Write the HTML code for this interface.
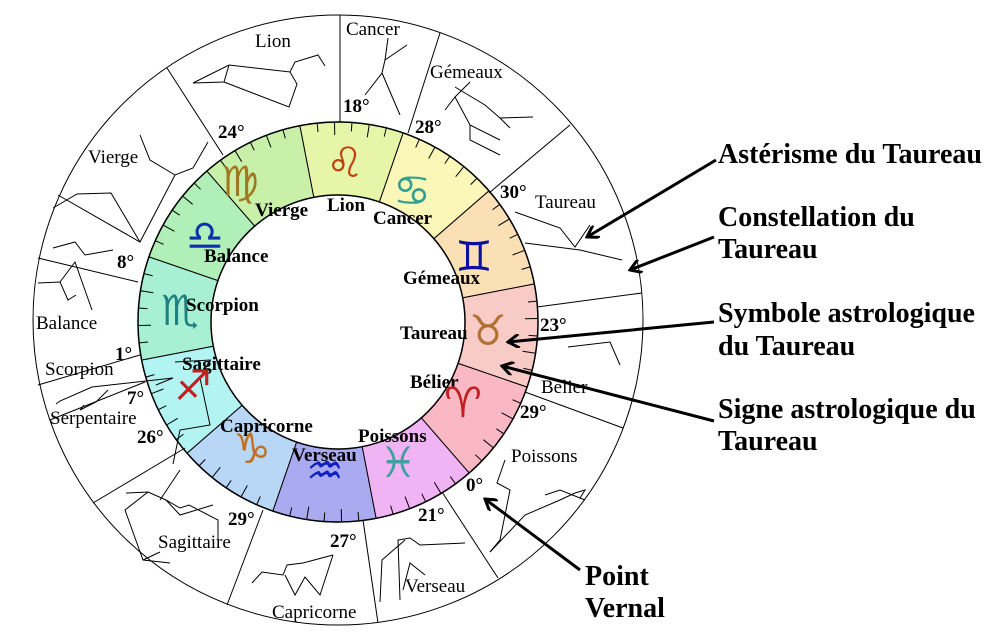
<!DOCTYPE html>
<html><head><meta charset="utf-8">
<style>
html,body{margin:0;padding:0;background:#fff;}
svg{display:block;}
.c{font-family:"Liberation Serif",serif;font-size:19px;fill:#000;}
.b{font-family:"Liberation Serif",serif;font-size:19px;font-weight:bold;fill:#000;}
.r{font-family:"Liberation Serif",serif;font-size:28px;font-weight:bold;fill:#000;}
.s{font-family:"DejaVu Sans",sans-serif;font-size:42px;text-anchor:middle;}
</style></head>
<body>
<svg width="991" height="642" viewBox="0 0 991 642" xmlns="http://www.w3.org/2000/svg">
<defs>
<marker id="ah" markerWidth="14" markerHeight="14" refX="12" refY="7" orient="auto" markerUnits="userSpaceOnUse">
<path d="M1,0 L12,7 L1,14" fill="none" stroke="#000" stroke-width="3"/>
</marker>
</defs>
<circle cx="338" cy="320" r="305" fill="#fff" stroke="#000" stroke-width="1"/>
<g id="ring"></g>
<g id="ticks" stroke="#000" stroke-width="1"></g>
<circle cx="338" cy="322" r="127" fill="#fff" stroke="#000" stroke-width="1.5"/>
<circle cx="338" cy="322" r="200" fill="none" stroke="#000" stroke-width="1.5"/>

<g stroke="#000" stroke-width="1">
<line x1="340" y1="122" x2="340" y2="15"/>
<line x1="408" y1="133" x2="440" y2="33"/>
<line x1="489" y1="193" x2="570" y2="125"/>
<line x1="537" y1="307" x2="642" y2="293"/>
<line x1="525" y1="392" x2="623" y2="428"/>
<line x1="442" y1="492" x2="498" y2="578"/>
<line x1="363" y1="520" x2="378" y2="623"/>
<line x1="263" y1="510" x2="227" y2="605"/>
<line x1="185" y1="448" x2="93" y2="503"/>
<line x1="145" y1="382" x2="50" y2="420"/>
<line x1="140" y1="355" x2="38" y2="385"/>
<line x1="138" y1="282" x2="38" y2="258"/>
<line x1="223" y1="155" x2="167" y2="68"/>
</g>

<g fill="none" stroke="#000" stroke-width="1">
<polyline points="193,83 229,65 290,72 295,62 318,55 325,66"/>
<polyline points="229,65 224,82 193,83"/>
<polyline points="224,82 289,107 297,84 290,72"/>
<polyline points="140,135 150,160 175,175 193,168 208,142"/>
<polyline points="175,175 140,242 58,195"/>
<polyline points="140,242 111,193 77,194 53,208"/>
<polyline points="53,248 75,242 85,255 113,250"/>
<polyline points="388,38 385,60 382,73 365,95"/>
<polyline points="385,60 407,45"/>
<polyline points="382,73 400,115"/>
<polyline points="455,87 485,105 500,118 533,117"/>
<polyline points="470,82 455,97 445,110"/>
<polyline points="455,97 470,125 500,140"/>
<polyline points="470,125 470,140 500,155"/>
<polyline points="500,118 510,128"/>
<polyline points="515,212 560,228 575,247 590,225"/>
<polyline points="525,243 580,250 622,260"/>
<polyline points="568,347 610,342 620,365"/>
<polyline points="505,460 497,483 510,490 500,540 490,552"/>
<polyline points="490,552 525,515 560,500 575,493 585,490 580,498"/>
<polyline points="545,495 560,490 585,500"/>
<polyline points="400,600 398,540 410,538 420,545 465,543"/>
<polyline points="380,602 382,560 405,540"/>
<polyline points="403,590 410,563 425,575"/>
<polyline points="252,583 262,572 283,575 287,565 303,563 333,555"/>
<polyline points="285,575 295,595 305,577 320,595 333,555"/>
<polyline points="173,464 180,430 210,425 200,378"/>
<polyline points="200,378 210,360 175,362"/>
<polyline points="160,500 180,470"/>
<polyline points="126,493 148,492 166,500 180,508 189,505 218,520 218,540"/>
<polyline points="166,500 180,515 213,505"/>
<polyline points="148,492 125,510 143,560 170,563"/>
<polyline points="143,560 160,552"/>
<polyline points="156,385 173,378 92,387 60,401 56,404"/>
<polyline points="84,405 80,410 96,402 108,390"/>
<polyline points="38,283 60,282 68,300 76,295"/>
<polyline points="60,282 75,262 92,310"/>
</g>

<text class="c" x="255" y="47">Lion</text>
<text class="c" x="346" y="35">Cancer</text>
<text class="c" x="430" y="78">Gémeaux</text>
<text class="c" x="535" y="208">Taureau</text>
<text class="c" x="88" y="163">Vierge</text>
<text class="c" x="36" y="329">Balance</text>
<text class="c" x="45" y="375">Scorpion</text>
<text class="c" x="50" y="424">Serpentaire</text>
<text class="c" x="158" y="548">Sagittaire</text>
<text class="c" x="272" y="618">Capricorne</text>
<text class="c" x="405" y="592">Verseau</text>
<text class="c" x="511" y="462">Poissons</text>
<text class="c" x="541" y="393">Bélier</text>

<text class="b" x="343" y="112">18°</text>
<text class="b" x="415" y="133">28°</text>
<text class="b" x="500" y="198">30°</text>
<text class="b" x="540" y="331">23°</text>
<text class="b" x="520" y="418">29°</text>
<text class="b" x="466" y="491">0°</text>
<text class="b" x="418" y="521">21°</text>
<text class="b" x="330" y="547">27°</text>
<text class="b" x="228" y="525">29°</text>
<text class="b" x="137" y="443">26°</text>
<text class="b" x="127" y="404">7°</text>
<text class="b" x="115" y="360">1°</text>
<text class="b" x="117" y="268">8°</text>
<text class="b" x="218" y="138">24°</text>

<text class="b" x="255" y="216">Vierge</text>
<text class="b" x="327" y="211">Lion</text>
<text class="b" x="373" y="224">Cancer</text>
<text class="b" x="403" y="284">Gémeaux</text>
<text class="b" x="400" y="339">Taureau</text>
<text class="b" x="410" y="388">Bélier</text>
<text class="b" x="358" y="442">Poissons</text>
<text class="b" x="292" y="461">Verseau</text>
<text class="b" x="220" y="432">Capricorne</text>
<text class="b" x="182" y="370">Sagittaire</text>
<text class="b" x="186" y="311">Scorpion</text>
<text class="b" x="204" y="262">Balance</text>

<text class="s" x="240" y="196" fill="#a07820">♍&#xFE0E;</text>
<text class="s" x="345" y="177" fill="#c04010">♌&#xFE0E;</text>
<text class="s" x="412" y="205" fill="#30a090">♋&#xFE0E;</text>
<text class="s" x="474" y="271" fill="#1010a0">♊&#xFE0E;</text>
<text class="s" x="488" y="345" fill="#b07030">♉&#xFE0E;</text>
<text class="s" x="463" y="417" fill="#c02020">♈&#xFE0E;</text>
<text class="s" x="398" y="477" fill="#40a0a0">♓&#xFE0E;</text>
<text class="s" x="325" y="485" fill="#1020c0">♒&#xFE0E;</text>
<text class="s" x="252" y="463" fill="#c07020">♑&#xFE0E;</text>
<text class="s" x="193" y="400" fill="#c02020">♐&#xFE0E;</text>
<text class="s" x="180" y="325" fill="#208080">♏&#xFE0E;</text>
<text class="s" x="205" y="250" fill="#1030b0">♎&#xFE0E;</text>

<text class="r" x="718" y="163">Astérisme du Taureau</text>
<text class="r" x="718" y="226">Constellation du</text>
<text class="r" x="718" y="258">Taureau</text>
<text class="r" x="718" y="322">Symbole astrologique</text>
<text class="r" x="718" y="355">du Taureau</text>
<text class="r" x="718" y="418">Signe astrologique du</text>
<text class="r" x="718" y="450">Taureau</text>
<text class="r" x="585" y="585">Point</text>
<text class="r" x="585" y="617">Vernal</text>

<g stroke="#000" stroke-width="3" fill="none" marker-end="url(#ah)">
<line x1="716" y1="160" x2="587" y2="237"/>
<line x1="714" y1="237" x2="630" y2="270"/>
<line x1="714" y1="322" x2="508" y2="342"/>
<line x1="714" y1="421" x2="502" y2="366"/>
<line x1="580" y1="570" x2="485" y2="499"/>
</g>

<script>
(function(){
var cx=338,cy=322,ro=200,ri=127,ns="http://www.w3.org/2000/svg";
var cols=["#f9cbc6","#fbe0b6","#fbf7b8","#e6f5a8","#c9f0a8","#b0f0b8","#a8f0d4","#b2f4f2","#b8d6f6","#aaaaf0","#f0b4f4","#f9b8c4"];
var g=document.getElementById("ring");
function pt(a,r){var t=a*Math.PI/180;return [cx+r*Math.cos(t),cy-r*Math.sin(t)];}
for(var i=0;i<12;i++){
 var a0=-19+30*i,a1=a0+30;
 var p1=pt(a0,ro),p2=pt(a1,ro),p3=pt(a1,ri),p4=pt(a0,ri);
 var d="M"+p1+" A"+ro+","+ro+" 0 0 0 "+p2+" L"+p3+" A"+ri+","+ri+" 0 0 1 "+p4+" Z";
 var p=document.createElementNS(ns,"path");
 p.setAttribute("d",d);p.setAttribute("fill",cols[i]);p.setAttribute("stroke","#000");p.setAttribute("stroke-width","1");
 g.appendChild(p);
}
var t=document.getElementById("ticks");
for(var a=-19;a<341;a+=5){
 if(((a+19)%30)==0)continue;
 var len=((a+19)%10==0)?13:9;
 var q1=pt(a,ro),q2=pt(a,ro-len);
 var l=document.createElementNS(ns,"line");
 l.setAttribute("x1",q1[0]);l.setAttribute("y1",q1[1]);l.setAttribute("x2",q2[0]);l.setAttribute("y2",q2[1]);
 t.appendChild(l);
}
})();
</script>
</svg>
</body></html>
